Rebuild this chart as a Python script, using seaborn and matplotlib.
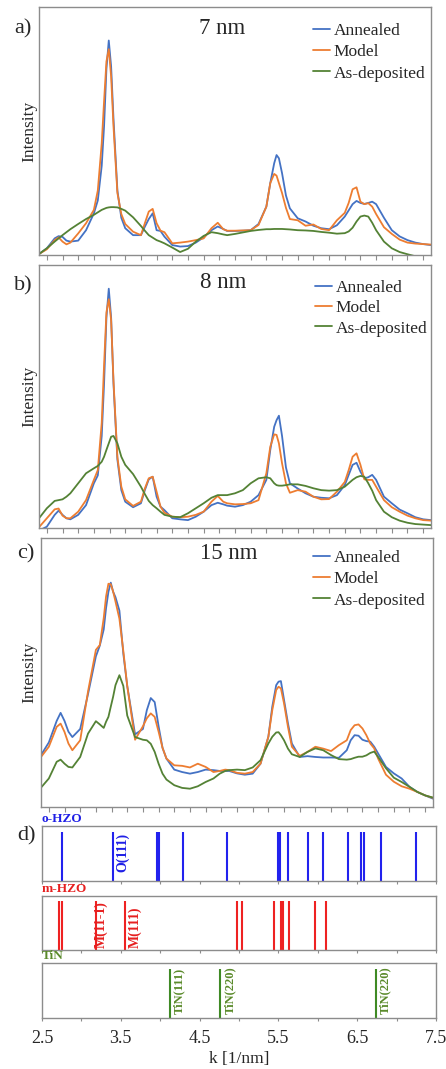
import numpy as np
import pandas as pd
import matplotlib
matplotlib.use("Agg")
import matplotlib.pyplot as plt
from matplotlib.lines import Line2D
from matplotlib.ticker import MultipleLocator
import seaborn as sns

# ---------------- data ----------------
k = [2.5, 2.6, 2.7, 2.75, 2.8, 2.85, 2.9, 3.0, 3.1, 3.2,
     3.25, 3.3, 3.33, 3.36, 3.39, 3.42, 3.45, 3.5, 3.55, 3.6,
     3.7, 3.8, 3.85, 3.9, 3.95, 4.0, 4.05, 4.1, 4.2, 4.3,
     4.4, 4.5, 4.6, 4.7, 4.78, 4.85, 4.9, 5.0, 5.1, 5.2,
     5.3, 5.4, 5.45, 5.5, 5.53, 5.56, 5.6, 5.65, 5.7, 5.8,
     5.9, 6.0, 6.1, 6.2, 6.3, 6.4, 6.45, 6.5, 6.55, 6.6,
     6.65, 6.7, 6.75, 6.8, 6.9, 7.0, 7.1, 7.2, 7.3, 7.4, 7.5]

# 7 nm
a_annealed = [0.4, 2.7, 6.7, 7.6, 7.3, 5.8, 5.4, 5.8, 10, 16.8,
              22, 36, 52, 75, 86.5, 76, 55, 26, 15, 10.8,
              8, 8, 11.4, 14.5, 16.8, 10, 9.7, 7.4, 4, 3.4,
              3.6, 5, 7.1, 10, 11.5, 10.5, 9.7, 9.7, 9.8, 10,
              12.5, 19.5, 29, 37, 40.3, 39, 33, 24, 18.8, 14.8,
              13.5, 11.8, 10.8, 10.4, 12, 15.5, 18, 20.5, 21.8, 21,
              20.6, 21, 21.5, 20.5, 15, 10, 7.5, 6, 5, 4.4, 4]
a_model = [0.4, 2.3, 6, 7.1, 5.4, 4.3, 5, 8.7, 12.8, 18.2,
           26, 45, 62, 78, 83, 72, 52, 25, 16.5, 12.5,
           9.4, 8, 12.8, 17.5, 18.6, 12.8, 9.8, 9.2, 4.7, 5,
           5.4, 6, 6.7, 10.8, 13, 10.4, 9.8, 9.8, 9.9, 10,
           12.1, 19.5, 29, 32.7, 32, 29, 25, 19, 14.5, 14,
           11.8, 12.3, 10.5, 10, 14, 17, 21, 26.5, 27.3, 21.5,
           20.5, 20.9, 19.5, 16.5, 11.2, 8.5, 6.2, 5, 4.6, 4.4, 4.2]
a_deposited = [0.4, 2.7, 5.4, 6.7, 8, 9.2, 10.4, 12.5, 14.5, 16.2,
               17.2, 18.2, 18.6, 19, 19.2, 19.3, 19.3, 19.2, 18.6, 17.9,
               15.2, 11.7, 9.8, 8, 7, 6, 5.4, 4.7, 3, 1.2,
               2.5, 5.4, 7.7, 9.2, 8.8, 8.3, 8, 8.5, 9.1, 9.7,
               10.1, 10.4, 10.4, 10.5, 10.5, 10.5, 10.5, 10.4, 10.3, 10,
               9.9, 9.7, 9.3, 9, 8.6, 8.8, 9.5, 11, 13.5, 15.5,
               15.9, 15.5, 13, 10, 5.4, 2.7, 1.2, 0.3, -0.5, -1, -1.5]

# 8 nm
b_annealed = [-1, 0.5, 5, 6.6, 5, 3.7, 3.3, 5, 8.7, 17,
              20, 35, 55, 80, 91, 80, 55, 26, 14.4, 10,
              7.9, 9.4, 14.4, 18.5, 19.5, 11.9, 8.1, 6.8, 3.7, 3.3,
              3, 4.3, 6.2, 8.7, 9.6, 9, 8.5, 8.1, 8.7, 10,
              12.5, 18.3, 29.7, 38.5, 41, 42.7, 35, 23, 17, 15,
              13.2, 11.9, 11.5, 11.3, 12.5, 16.3, 20.2, 24, 24.8, 21.4,
              18.9, 19.3, 20.2, 18.3, 11.9, 9.4, 7, 5.6, 4.1, 3.3, 3]
b_model = [0.3, 3.7, 7.1, 7.4, 4.7, 3.7, 3.7, 6.2, 10.6, 18.3,
           22, 40, 62, 82, 87, 79, 56, 27, 15.7, 10.9,
           8.4, 10, 15, 18.9, 19.5, 13.8, 8.1, 5.8, 4.3, 4.1,
           4.3, 5, 6.2, 10, 12.2, 10, 9.4, 9, 9.1, 9.4,
           10.6, 20.8, 30.9, 35.6, 35.4, 32.2, 24.6, 17, 13.4, 14.4,
           13.8, 11.9, 10.9, 11, 13.8, 17.5, 22, 27.1, 28.4, 24,
           18.5, 18.3, 18.3, 15.7, 10.6, 7.9, 6.2, 4.7, 3.7, 3, 2.8]
b_deposited = [3.7, 7.5, 10.3, 10.6, 10.9, 11.9, 13.2, 17, 20.8, 22.7,
               23.6, 25.2, 27.1, 29.7, 32.2, 34.7, 35, 32.2, 27.1, 24,
               20.5, 15.7, 12.9, 10.3, 8.7, 7.5, 6.2, 5, 4.3, 4.1,
               5.6, 7.5, 9.4, 11.5, 12.5, 12.5, 12.5, 13.2, 14.4, 17,
               18.9, 19.3, 18.9, 17, 16.3, 16.1, 16.1, 16.3, 16.6, 16.6,
               16, 15.1, 14.4, 14.2, 14.4, 15.7, 17, 18.3, 19.3, 19.8,
               19.5, 17, 14.2, 10.6, 6.2, 4.1, 2.8, 2, 1.5, 1.3, 1.1]

# 15 nm
c_annealed = [19.3, 24, 32, 35, 32, 28, 26, 29, 42, 56,
              60, 66, 74, 80, 83.4, 80, 78, 73, 57, 45,
              27, 29, 36, 40.5, 39, 30, 22, 18, 13.9, 13,
              12.4, 13, 13.9, 13.7, 13.4, 13.4, 13.4, 12.5, 12, 12.4,
              16.1, 26.1, 37.3, 45.3, 46.6, 46.8, 39.8, 31.1, 23.6, 18.6,
              18.9, 18.6, 18.4, 18.4, 18.3, 21.1, 24.8, 26.7, 26.5, 25,
              24.5, 24.3, 22.4, 19.9, 14.9, 12.5, 10.6, 7.5, 5.6, 4.3, 3.1]
c_model = [18.6, 22.4, 29.8, 31, 27.9, 23.6, 21.1, 24.8, 43, 58.4,
           60.2, 70.2, 78.3, 83, 82.8, 80.1, 76.4, 70, 58, 45,
           25, 30, 33, 34.8, 33.5, 28, 22, 18, 15.5, 15.3,
           14.7, 16.1, 14.9, 13, 13.4, 13.9, 13.7, 12.7, 12.4, 13,
           16.1, 26.1, 36, 43.5, 44.7, 44.1, 38.5, 29.8, 22.4, 19,
           20.5, 22.4, 21.7, 20.8, 23, 24.8, 28.6, 30.4, 30.7, 29.2,
           26.7, 23.6, 21.8, 18, 12, 9.4, 7.7, 6.8, 5.6, 4.3, 3.4]
c_deposited = [7.2, 10.6, 16.8, 17.6, 16.1, 14.9, 14.7, 18.6, 27.3, 31.9,
               30.7, 29.4, 31.7, 33.5, 37.3, 41, 45.3, 49, 45, 34,
               26, 25, 24.8, 23.5, 20.5, 16.1, 12.4, 10.2, 8.1, 7.1,
               6.8, 7.7, 9.3, 10.6, 12.4, 13.4, 13.7, 13.9, 13.7, 14.7,
               17.4, 23.6, 26.1, 27.7, 27.8, 26.7, 24.8, 21.7, 19.6, 18.6,
               20.5, 21.8, 21.1, 19.3, 17.8, 17.6, 17.8, 18.3, 18.7, 18.7,
               19.2, 20.1, 20.6, 18.6, 14.4, 10.9, 9.3, 7.5, 5.6, 4.3, 3.5]

series_names = ["Annealed", "Model", "As-deposited"]
panel_titles = ["7 nm", "8 nm", "15 nm"]
panel_letters = ["a)", "b)", "c)"]

# reference reflections (k in 1/nm)
o_hzo = [2.76, 3.40, 3.96, 3.99, 4.29, 4.85, 5.50, 5.52, 5.62, 5.87,
         6.06, 6.38, 6.55, 6.59, 6.80, 7.24]
m_hzo = [2.71, 2.76, 3.18, 3.55, 4.98, 5.04, 5.44, 5.53, 5.56, 5.63,
         5.96, 6.11]
tin = [4.13, 4.76, 6.74]
o_labels = ["O(111)"]
o_label_k = [3.52]
m_labels = ["M(11-1)", "M(111)"]
m_label_k = [3.25, 3.68]
tin_labels = ["TiN(111)", "TiN(220)", "TiN(220)"]
tin_label_k = [4.24, 4.89, 6.85]

tick_values = [2.5, 3.5, 4.5, 5.5, 6.5, 7.5]
tick_labels = ["2.5", "3.5", "4.5", "5.5", "6.5", "7.5"]

# ---------------- style ----------------
sns.set_style("white")
plt.rcParams["font.family"] = ["Liberation Serif", "DejaVu Serif"]
plt.rcParams["axes.linewidth"] = 1.0

C_BLUE, C_ORANGE, C_GREEN = "#4472C4", "#ED7D31", "#548235"
palette = {"Annealed": C_BLUE, "Model": C_ORANGE, "As-deposited": C_GREEN}
SPINE = "#8c8c8c"

W, H = 446, 1069
fig = plt.figure(figsize=(W / 100, H / 100), dpi=100)


def px_axes(l, t, r, b):
    return fig.add_axes([l / W, 1 - b / H, (r - l) / W, (b - t) / H])


def style_frame(ax):
    for s in ax.spines.values():
        s.set_color(SPINE)
        s.set_linewidth(1.0)


panels = [
    ((39, 7, 431, 255), (a_annealed, a_model, a_deposited), (0.467, 0.913), (23, 29), 313, 23, 25),
    ((39, 265, 431, 528), (b_annealed, b_model, b_deposited), (0.471, 0.932), (23, 286), 315, 280, 24),
    ((41, 538, 433, 807), (c_annealed, c_model, c_deposited), (0.480, 0.944), (26, 554), 313, 550, 25),
]

for i, (box, ser, tpos, lpos, legx, legtop, rowsp) in enumerate(panels):
    ax = px_axes(*box)
    df = pd.DataFrame({
        "k": k * 3,
        "I": list(ser[0]) + list(ser[1]) + list(ser[2]),
        "series": [series_names[0]] * len(k) + [series_names[1]] * len(k) + [series_names[2]] * len(k),
    })
    sns.lineplot(data=df, x="k", y="I", hue="series", palette=palette,
                 hue_order=series_names, estimator=None, sort=False,
                 linewidth=1.3, legend=False, ax=ax)
    ax.set_xlim(2.5, 7.5)
    ax.set_ylim(0, 100)
    ax.set_xlabel("")
    ax.set_ylabel("")
    ax.set_yticks([])
    ax.xaxis.set_major_locator(MultipleLocator(0.2))
    ax.tick_params(axis="x", bottom=True, labelbottom=False, direction="out",
                   length=3.5, width=0.8, color=SPINE)
    style_frame(ax)
    ax.text(tpos[0], tpos[1], panel_titles[i], transform=ax.transAxes,
            ha="center", va="center", fontsize=16.5)
    fig.text(lpos[0] / W, 1 - lpos[1] / H, panel_letters[i], ha="center",
             va="center", fontsize=16)
    yc = box[1] + (box[3] - box[1]) / 2
    fig.text(29 / W, 1 - yc / H, "Intensity", rotation=90, ha="center",
             va="center", fontsize=12.5)
    handles = [Line2D([], [], color=palette[n], lw=1.3) for n in series_names]
    fs = 12.5
    fspx = fs * 100 / 72
    ax.legend(handles, series_names, loc="upper left",
              bbox_to_anchor=(legx / W, 1 - legtop / H),
              bbox_transform=fig.transFigure, frameon=False, borderpad=0,
              borderaxespad=0, handlelength=1.0, handletextpad=0.2,
              labelspacing=(rowsp - fspx * 1.15) / fspx, fontsize=fs)

# ---------------- panel d ----------------
d_boxes = [(42, 826, 436, 881), (42, 896, 436, 950), (42, 963, 436, 1018)]
d_sets = [o_hzo, m_hzo, tin]
d_colors = ["#2222ee", "#ee2222", "#3f8a24"]
d_text_colors = ["#1f1fe6", "#e61f1f", "#5a8a2a"]
d_names = ["o-HZO", "m-HZO", "TiN"]
d_lab = [(o_labels, o_label_k, 0.52, 10), (m_labels, m_label_k, None, 10),
         (tin_labels, tin_label_k, 0.5, 9)]
m_label_y = [0.48, 0.42]

for j, box in enumerate(d_boxes):
    ax = px_axes(*box)
    ax.vlines(d_sets[j], 0, 0.9, transform=ax.get_xaxis_transform(),
              colors=d_colors[j], linewidth=1.5)
    ax.set_xlim(2.5, 7.5)
    ax.set_ylim(0, 1)
    ax.set_yticks([])
    ax.xaxis.set_minor_locator(MultipleLocator(0.5))
    ax.set_xticks(tick_values)
    if j == 2:
        ax.set_xticklabels(tick_labels, fontsize=13)
        ax.set_xlabel("k [1/nm]", fontsize=12.5, labelpad=3)
    else:
        ax.set_xticklabels([])
    ax.tick_params(axis="x", which="both", bottom=True, direction="out",
                   length=2.5, width=0.8, color=SPINE, pad=6)
    style_frame(ax)
    labs, lk, ly, fsz = d_lab[j]
    for n, (t, kk) in enumerate(zip(labs, lk)):
        yy = ly if ly is not None else m_label_y[n]
        ax.text(kk, yy, t, transform=ax.get_xaxis_transform(), rotation=90,
                ha="center", va="center", fontsize=fsz, fontweight="bold",
                color=d_text_colors[j])
    fig.text(42 / W, 1 - (box[1] - 7) / H, d_names[j], ha="left", va="center",
             fontsize=9.5, fontweight="bold", color=d_text_colors[j])

fig.text(27 / W, 1 - 836 / H, "d)", ha="center", va="center", fontsize=16)

fig.savefig("out.png", dpi=100)
